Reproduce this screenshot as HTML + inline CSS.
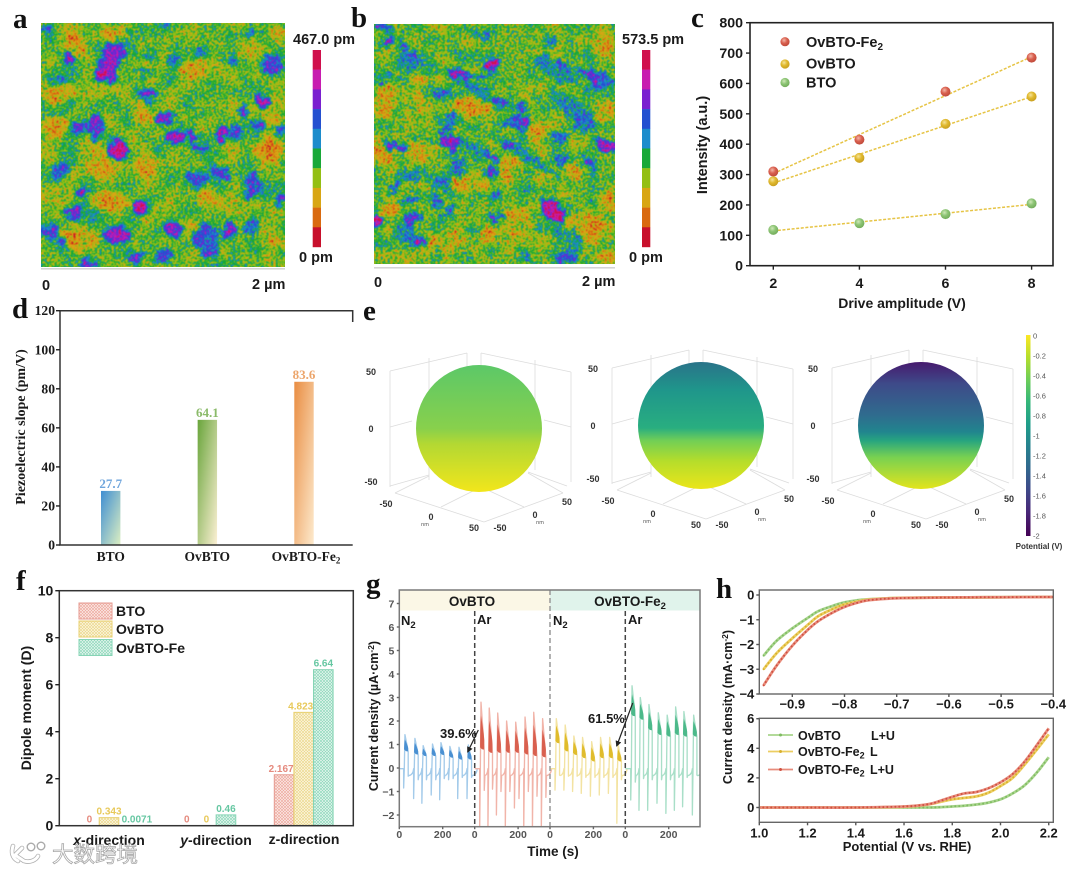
<!DOCTYPE html>
<html lang="en">
<head>
<meta charset="utf-8">
<title>Piezoelectric characterisation figure</title>
<style>
html,body{margin:0;padding:0;background:#fff;}
#figure{display:block;width:1080px;height:872px;filter:blur(0.35px);}
text{font-family:"Liberation Sans","Noto Sans CJK SC",sans-serif;}
.s{font-weight:bold;fill:#1a1a1a;}
.serif{font-family:"Liberation Serif",serif;font-weight:bold;fill:#1a1a1a;}
.letter{font-family:"Liberation Serif",serif;font-weight:bold;font-size:29px;fill:#111;}
</style>
</head>
<body>
<svg id="figure" xmlns="http://www.w3.org/2000/svg" width="1080" height="872" viewBox="0 0 1080 872">
<defs>
  <clipPath id="clip-map-a"><rect x="41" y="23" width="244" height="244"/></clipPath>
  <clipPath id="clip-map-b"><rect x="374" y="24" width="241" height="240"/></clipPath>
  <filter id="afm-a" filterUnits="userSpaceOnUse" x="21" y="3" width="284" height="284" color-interpolation-filters="sRGB">
    <feTurbulence type="fractalNoise" baseFrequency="0.05" numOctaves="2" seed="9" result="coarse"/>
    <feTurbulence type="fractalNoise" baseFrequency="0.12" numOctaves="2" seed="31" result="warp"/>
    <feDisplacementMap in="SourceGraphic" in2="warp" scale="16" xChannelSelector="R" yChannelSelector="G" result="warped"/>
    <feGaussianBlur in="warped" stdDeviation="1.3" result="base"/>
    <feTurbulence type="fractalNoise" baseFrequency="0.42" numOctaves="2" seed="4" result="fine"/>
    <feColorMatrix in="fine" type="matrix" values="1 0 0 0 0 1 0 0 0 0 1 0 0 0 0 0 0 0 0 1" result="fineGray"/>
    <feColorMatrix in="coarse" type="matrix" values="1 0 0 0 0 1 0 0 0 0 1 0 0 0 0 0 0 0 0 1" result="coarseGray"/>
    <feComposite in="base" in2="fineGray" operator="arithmetic" k1="0" k2="1" k3="0.6" k4="-0.3" result="m1"/>
    <feComposite in="m1" in2="coarseGray" operator="arithmetic" k1="0" k2="1" k3="0.3" k4="-0.15" result="m2"/>
    <feComponentTransfer in="m2" result="mapped">
      <feFuncR type="discrete" tableValues=".78 .85 .85 .58 .09 .11 .14 .48 .78 .82"/>
      <feFuncG type="discrete" tableValues=".06 .42 .65 .75 .66 .55 .31 .13 .11 .06"/>
      <feFuncB type="discrete" tableValues=".17 .06 .08 .08 .22 .80 .82 .82 .69 .30"/>
    </feComponentTransfer>
    <feGaussianBlur in="mapped" stdDeviation="0.45"/>
  </filter>
  <filter id="afm-b" filterUnits="userSpaceOnUse" x="354" y="4" width="281" height="280" color-interpolation-filters="sRGB">
    <feTurbulence type="fractalNoise" baseFrequency="0.06" numOctaves="2" seed="23" result="coarse"/>
    <feTurbulence type="fractalNoise" baseFrequency="0.14" numOctaves="2" seed="41" result="warp"/>
    <feDisplacementMap in="SourceGraphic" in2="warp" scale="18" xChannelSelector="R" yChannelSelector="G" result="warped"/>
    <feGaussianBlur in="warped" stdDeviation="1.1" result="base"/>
    <feTurbulence type="fractalNoise" baseFrequency="0.42" numOctaves="2" seed="17" result="fine"/>
    <feColorMatrix in="fine" type="matrix" values="1 0 0 0 0 1 0 0 0 0 1 0 0 0 0 0 0 0 0 1" result="fineGray"/>
    <feColorMatrix in="coarse" type="matrix" values="1 0 0 0 0 1 0 0 0 0 1 0 0 0 0 0 0 0 0 1" result="coarseGray"/>
    <feComposite in="base" in2="fineGray" operator="arithmetic" k1="0" k2="1" k3="0.62" k4="-0.31" result="m1"/>
    <feComposite in="m1" in2="coarseGray" operator="arithmetic" k1="0" k2="1" k3="0.3" k4="-0.15" result="m2"/>
    <feComponentTransfer in="m2" result="mapped">
      <feFuncR type="discrete" tableValues=".78 .85 .85 .58 .09 .11 .14 .48 .78 .82"/>
      <feFuncG type="discrete" tableValues=".06 .42 .65 .75 .66 .55 .31 .13 .11 .06"/>
      <feFuncB type="discrete" tableValues=".17 .06 .08 .08 .22 .80 .82 .82 .69 .30"/>
    </feComponentTransfer>
    <feGaussianBlur in="mapped" stdDeviation="0.45"/>
  </filter>
  <radialGradient id="ball-red" cx="0.4" cy="0.35" r="0.65"><stop offset="0" stop-color="#f3b7a8"/><stop offset="0.5" stop-color="#d9604f"/><stop offset="1" stop-color="#c04a3a"/></radialGradient>
  <radialGradient id="ball-yellow" cx="0.4" cy="0.35" r="0.65"><stop offset="0" stop-color="#f6e49a"/><stop offset="0.5" stop-color="#e0b92e"/><stop offset="1" stop-color="#c9a020"/></radialGradient>
  <radialGradient id="ball-green" cx="0.4" cy="0.35" r="0.65"><stop offset="0" stop-color="#cfe8b8"/><stop offset="0.5" stop-color="#8cc474"/><stop offset="1" stop-color="#74ad5c"/></radialGradient>
  <linearGradient id="bar-blue" x1="0" y1="0" x2="1" y2="1"><stop offset="0" stop-color="#3f8ed2"/><stop offset="1" stop-color="#dcefc2"/></linearGradient>
  <linearGradient id="bar-green" x1="0" y1="0" x2="1" y2="1"><stop offset="0" stop-color="#69a53b"/><stop offset="1" stop-color="#fcf0d4"/></linearGradient>
  <linearGradient id="bar-orange" x1="0" y1="0" x2="1" y2="1"><stop offset="0" stop-color="#e98d42"/><stop offset="1" stop-color="#fdeacd"/></linearGradient>
  <pattern id="hatch-red" width="3" height="3" patternUnits="userSpaceOnUse"><rect width="3" height="3" fill="#fdf1ee"/><path d="M0 0L3 3M3 0L0 3" stroke="#eda99f" stroke-width=".7"/></pattern>
  <pattern id="hatch-yellow" width="3" height="3" patternUnits="userSpaceOnUse"><rect width="3" height="3" fill="#fdf9e9"/><path d="M0 0L3 3M3 0L0 3" stroke="#ecd88c" stroke-width=".7"/></pattern>
  <pattern id="hatch-green" width="3" height="3" patternUnits="userSpaceOnUse"><rect width="3" height="3" fill="#eef9f4"/><path d="M0 0L3 3M3 0L0 3" stroke="#8fd8bb" stroke-width=".7"/></pattern>
  <linearGradient id="sphere-1" x1="0" y1="0" x2="0" y2="1"><stop offset="0" stop-color="#5cc868"/><stop offset=".5" stop-color="#88d04c"/><stop offset=".62" stop-color="#b3d833"/><stop offset="1" stop-color="#f2e61b"/></linearGradient>
  <linearGradient id="sphere-2" x1="0" y1="0" x2="0" y2="1"><stop offset="0" stop-color="#2a7389"/><stop offset=".22" stop-color="#1f968b"/><stop offset=".52" stop-color="#29ae80"/><stop offset=".62" stop-color="#72cf55"/><stop offset=".78" stop-color="#b5dd2b"/><stop offset="1" stop-color="#ebe51a"/></linearGradient>
  <linearGradient id="sphere-3" x1="0" y1="0" x2="0" y2="1"><stop offset="0" stop-color="#471a6e"/><stop offset=".17" stop-color="#3e4a89"/><stop offset=".42" stop-color="#2f6c8e"/><stop offset=".55" stop-color="#21858e"/><stop offset=".62" stop-color="#27a57f"/><stop offset=".75" stop-color="#78d151"/><stop offset="1" stop-color="#e3e41c"/></linearGradient>
  <linearGradient id="viridis-rev" x1="0" y1="0" x2="0" y2="1"><stop offset="0" stop-color="#fde725"/><stop offset=".11" stop-color="#b5de2b"/><stop offset=".22" stop-color="#6ece58"/><stop offset=".33" stop-color="#35b779"/><stop offset=".44" stop-color="#1f9e89"/><stop offset=".55" stop-color="#26828e"/><stop offset=".66" stop-color="#31688e"/><stop offset=".77" stop-color="#3e4989"/><stop offset=".88" stop-color="#482878"/><stop offset="1" stop-color="#440154"/></linearGradient>
  <clipPath id="clip-g"><rect x="399.3" y="590" width="300.7" height="236.7"/></clipPath>
  <marker id="arrow-head" viewBox="0 0 6 6" refX="5" refY="3" markerWidth="5" markerHeight="5" orient="auto-start-reverse"><path d="M0 0L6 3L0 6z" fill="#222"/></marker>
</defs>

<!-- panel letters -->
<text class="letter" x="13" y="28">a</text>
<text class="letter" x="351" y="27">b</text>
<text class="letter" x="691" y="27">c</text>
<text class="letter" x="12" y="318">d</text>
<text class="letter" x="363" y="320">e</text>
<text class="letter" x="16" y="590">f</text>
<text class="letter" x="366" y="593">g</text>
<text class="letter" x="716" y="598">h</text>

<!-- panels a / b -->
<g id="map-a" filter="url(#afm-a)" clip-path="url(#clip-map-a)"></g>
<g id="map-b" filter="url(#afm-b)" clip-path="url(#clip-map-b)"></g>
<rect x="41" y="268" width="244" height="1.6" fill="#d4d4d4"/>
<rect x="374" y="267" width="241" height="1.6" fill="#d4d4d4"/>
<g id="colorbar-a"></g>
<g id="colorbar-b"></g>
<text class="s" x="293" y="44" font-size="14.5">467.0 pm</text>
<text class="s" x="299" y="262" font-size="14.5">0 pm</text>
<text class="s" x="42" y="290" font-size="14.5">0</text>
<text class="s" x="252" y="289" font-size="14.5">2 µm</text>
<text class="s" x="622" y="44" font-size="14.5">573.5 pm</text>
<text class="s" x="629" y="262" font-size="14.5">0 pm</text>
<text class="s" x="374" y="287" font-size="14.5">0</text>
<text class="s" x="582" y="286" font-size="14.5">2 µm</text>

<!-- panel c -->
<g id="chart-c"></g>
<text class="s" transform="translate(707,145) rotate(-90)" text-anchor="middle" font-size="14.5">Intensity (a.u.)</text>
<text class="s" x="902" y="308" text-anchor="middle" font-size="14">Drive amplitude (V)</text>
<text class="s" x="806" y="47" font-size="14.5" style="font-weight:bold" fill="#222">OvBTO-Fe<tspan dy="3" font-size="10">2</tspan></text>
<text class="s" x="806" y="68.5" font-size="14.5">OvBTO</text>
<text class="s" x="806" y="87.5" font-size="14.5">BTO</text>

<!-- panel d -->
<g id="chart-d"></g>
<text class="serif" transform="translate(25,427) rotate(-90)" text-anchor="middle" font-size="14">Piezoelectric slope (pm/V)</text>
<text class="serif" x="110.7" y="561" text-anchor="middle" font-size="13.5">BTO</text>
<text class="serif" x="207.3" y="561" text-anchor="middle" font-size="13.5">OvBTO</text>
<text class="serif" x="306" y="561" text-anchor="middle" font-size="13.5">OvBTO-Fe<tspan dy="2.5" font-size="9">2</tspan></text>

<!-- panel e -->
<g id="chart-e"></g>
<rect x="1026" y="335" width="4.5" height="201" fill="url(#viridis-rev)"/>
<text x="1039" y="549" text-anchor="middle" font-size="8" font-weight="bold" fill="#333">Potential (V)</text>

<!-- panel f -->
<g id="chart-f"></g>
<text class="s" transform="translate(31,708) rotate(-90)" text-anchor="middle" font-size="14">Dipole moment (D)</text>
<rect x="79" y="603" width="33" height="16" fill="url(#hatch-red)" stroke="#e59a90" stroke-width="1"/>
<rect x="79" y="621" width="33" height="16" fill="url(#hatch-yellow)" stroke="#e8d070" stroke-width="1"/>
<rect x="79" y="639.5" width="33" height="16" fill="url(#hatch-green)" stroke="#86d4b5" stroke-width="1"/>
<text class="s" x="116" y="616" font-size="14">BTO</text>
<text class="s" x="116" y="634" font-size="14">OvBTO</text>
<text class="s" x="116" y="653" font-size="14">OvBTO-Fe</text>
<text class="s" x="109" y="845" text-anchor="middle" font-size="14"><tspan font-style="italic">x</tspan>-direction</text>
<text class="s" x="216" y="845" text-anchor="middle" font-size="14"><tspan font-style="italic">y</tspan>-direction</text>
<text class="s" x="304" y="844" text-anchor="middle" font-size="14">z-direction</text>

<!-- panel g -->
<rect x="399.3" y="590" width="150.7" height="20.5" fill="#fbf7e6"/>
<rect x="550" y="590" width="150" height="20.5" fill="#e0f3eb"/>
<g id="chart-g"></g>
<text class="s" x="472" y="606" text-anchor="middle" font-size="13.5">OvBTO</text>
<text class="s" x="630" y="606" text-anchor="middle" font-size="13.5">OvBTO-Fe<tspan dy="3" font-size="9.5">2</tspan></text>
<text class="s" x="401" y="625" font-size="13">N<tspan dy="3" font-size="9.5">2</tspan></text>
<text class="s" x="477" y="624" font-size="13">Ar</text>
<text class="s" x="553" y="625" font-size="13">N<tspan dy="3" font-size="9.5">2</tspan></text>
<text class="s" x="628" y="624" font-size="13">Ar</text>
<line x1="478.3" y1="730" x2="467.7" y2="752" stroke="#222" stroke-width="1.2" marker-end="url(#arrow-head)"/>
<line x1="632.7" y1="703" x2="616.7" y2="746" stroke="#222" stroke-width="1.2" marker-end="url(#arrow-head)"/>
<text class="s" x="440" y="738" font-size="13" fill="#333">39.6%</text>
<text class="s" x="588" y="723" font-size="13" fill="#333">61.5%</text>
<text class="s" transform="translate(378,716) rotate(-90)" text-anchor="middle" font-size="12.5">Current density (µA·cm<tspan dy="-4" font-size="8.5">-2</tspan><tspan dy="4">)</tspan></text>
<text class="s" x="553" y="856" text-anchor="middle" font-size="13.5">Time (s)</text>

<!-- panel h -->
<g id="chart-h"></g>
<text class="s" transform="translate(732,707) rotate(-90)" text-anchor="middle" font-size="12.5">Current density (mA·cm<tspan dy="-4" font-size="8.5">-2</tspan><tspan dy="4">)</tspan></text>
<text class="s" x="907" y="851" text-anchor="middle" font-size="13">Potential (V vs. RHE)</text>
<text class="s" x="798" y="740" font-size="12.5">OvBTO</text>
<text class="s" x="871" y="740" font-size="12.5">L+U</text>
<text class="s" x="798" y="756" font-size="12.5">OvBTO-Fe<tspan dy="2.5" font-size="9">2</tspan></text>
<text class="s" x="870" y="756" font-size="12.5">L</text>
<text class="s" x="798" y="774" font-size="12.5">OvBTO-Fe<tspan dy="2.5" font-size="9">2</tspan></text>
<text class="s" x="870" y="774" font-size="12.5">L+U</text>

<!-- watermark -->
<g>
  <path d="M13 846 C11 852 12 858 18 861 M22 848 L15 855 L24 861 C30 863 36 860 38 856" fill="none" stroke="#b0b0b0" stroke-width="4.6" stroke-linecap="round"/>
  <path d="M13 846 C11 852 12 858 18 861 M22 848 L15 855 L24 861 C30 863 36 860 38 856" fill="none" stroke="#fff" stroke-width="3" stroke-linecap="round"/>
  <circle cx="31" cy="847" r="3.8" fill="#fff" stroke="#aaa" stroke-width="1.4"/>
  <circle cx="41" cy="846" r="3.8" fill="#fff" stroke="#aaa" stroke-width="1.4"/>
  <text x="52" y="862" font-size="21.5" fill="#fff" stroke="#a8a8a8" stroke-width="0.8" style="font-family:'Noto Sans CJK SC',sans-serif">大数跨境</text>
</g>
</svg>

<script>
// ---------- chart values ----------
// panel a: grain features, [x %, y %, rx %, ry %, height level]
const grainsA=[[30,12,4,4,.72],[27,19,4.5,5,.75],[25,21,1.6,1.4,.92],[12,14,1.5,3,.8],[3,3,1.6,1.4,.7],[44,29,3,2,.72],[90,31.5,3.4,2,.82],[95,16.5,3.8,4,.7],[51,39,3.8,2,.78],[55.5,47,3.4,2.5,.8],[62,47,2,2.5,.75],[74,46,2,3,.82],[65,51,2.5,1.2,.75],[79.5,45,2,2.5,.64],[22.6,42.5,2.2,5,.72],[15,42.5,3,2.5,.66],[32,52,3.7,4.1,.85],[89,42.5,2.7,2,.7],[98,43.5,1.8,1.4,.75],[8.2,60,3.3,2.8,.68],[17,68.5,2.2,1.6,.9],[72.6,61.6,3.3,3.3,.74],[63.7,64.4,4,3.3,.66],[86.3,64.4,3.3,2.5,.68],[86.3,70,2.7,2,.74],[98,74,1.6,2.2,.75],[13.7,78,3.3,2.5,.74],[40.7,75.6,2.5,2.7,.85],[3.4,85.6,3.3,1.9,.68],[8.2,90.4,1.6,2.2,.68],[31.5,87,4.5,3.8,.78],[53.8,84.2,3.3,2.5,.78],[67.8,87.7,4.5,5.2,.68],[77.4,85,2.2,3.3,.78],[69.9,93.8,3.4,1.8,.76],[86.3,83.6,2.5,2.5,.62],[38.4,95.9,2.2,2.2,.7],[50,95.2,2.7,2.7,.7],[19.9,98.6,3.8,1.4,.8],[82.9,36.3,1.8,1.2,.72],[54,15.8,2,2,.62],[65.8,11.6,1.9,1.6,.6],[50.4,1.4,2.2,1.1,.65],[78.8,15,1.6,1.6,.6],[86.3,2.7,1.4,2,.6],[44.5,13,1.1,1.6,.62],[41.8,19.9,4,.8,.62],[7.5,24,3.4,1.1,.58],[21,80,2,2,.58]];
const lowsA=[[7.5,29,7.5,4],[5.5,43,5.5,4.8],[3.4,70,4.4,3.8],[22.6,60,5.2,4.8],[63.7,18.5,5.5,4],[29.5,4,5.5,3.4],[95,35.6,4.8,5.2],[93.8,53,5.7,5.5],[23.3,51.4,3.8,3.4],[61,85,3.4,4.4],[15.7,89,7.5,4.4],[28,72.6,8.2,4],[77.4,74,4.4,4.8],[15,9,5.2,4.8],[43,56,4,7],[41.8,38,4,4],[68,72.6,4,4],[96.5,4,3.4,3.4],[96.5,90,3.4,2.7]];
// panel b: [x %, y %, rx %, ry %, rotation deg, height level]
const grainsB=[[4.4,1.2,3.9,1.1,0,.72],[6.5,7.2,2,1.1,-20,.88],[14.8,12,4.8,1,25,.68],[48.8,17,2.5,2,30,.9],[35.6,21,4.8,2,10,.82],[44.6,22,2.8,1.1,0,.7],[50.8,32,3,1.7,20,.72],[28.7,29.4,4.2,1,10,.7],[60,41,4.8,2.5,0,.7],[31.5,49,4.2,2.5,10,.8],[30,42.6,2,.7,45,.72],[9.3,51,4.8,1.1,25,.72],[48,54.4,4.2,1.4,30,.75],[35.6,59.3,2,4.2,15,.66],[8.6,67.6,1.7,3,20,.72],[26,74,1.7,2.8,0,.68],[31.4,77.4,1.7,3.5,30,.68],[16.2,81.5,4.2,2.5,-30,.68],[73.7,77.4,7,2.8,40,.88],[50,71.7,3,1.1,-40,.62],[50,80.8,2.8,1.1,0,.72],[1,81.5,1.9,1.7,0,.92],[96.5,51,4.2,2.1,15,.82],[77.8,46.8,2.8,2.1,30,.62],[87.5,40,4.8,3.5,-30,.62],[93.8,23,5.5,2.5,30,.68],[88,21,4.2,.8,30,.75],[69.5,16,2.8,2.1,0,.6],[78,17.6,2,2,0,.7],[61,34.3,2,1.1,0,.72],[70,59.3,8.3,1.1,35,.6],[88.9,58,4.2,.8,35,.68],[78.5,56.5,2,1.4,0,.6],[63.3,98,2,1.4,0,.62],[80,97.5,3.5,1.7,0,.62],[19,90.6,2.8,.8,0,.78],[15.5,73,2.8,.6,20,.72],[73,7.2,2,.8,0,.72],[43.9,4.4,3.5,.7,25,.7],[5,23,2.5,1,0,.66],[32,38,1.1,2,30,.7],[49.5,62,2,1.1,15,.65],[55.7,50.3,2,.7,25,.75],[44,29,10,1,35,.55],[58,52,10,1.2,30,.55],[81,33,9,3,30,.52],[40,52,6,1.7,40,.55],[16,63,6,1.4,0,.52],[29,65,8,2,-30,.55],[12,87,4,3,0,.52],[80,90,4,6,-60,.52],[76,19,9,3.5,30,.52],[16,16,10,3.5,10,.5]];
const lowsB=[[4.4,33,4.8,7],[3.7,54,4.2,4.9],[19.7,52,4.8,4.2],[41,34,7,4.9],[19,33,2.8,4.9],[18.3,23,3.5,2.5],[87,86,12.5,7],[96.5,37,3.5,4.2],[96.5,75,3.5,4.2],[59,83,7.6,5.6],[39.7,66,7,4.9],[55,60.7,2.8,4.9],[66,45,4.2,4.2],[6.5,77.4,4.2,4.2],[30,91,6.2,4.2],[93.8,8,5.5,4.2],[58.4,56,2.8,2.8],[84,62,3.5,4.2],[16,66,4.2,1.7],[46.7,88.4,3.5,3.5],[96.5,96.8,3.5,2.8]];
const heightColors=["#d0104c","#c81cb0","#7a20d0","#2450d0","#1c8ccc","#18a838","#93bf14","#d8a614","#d96a10","#c8102c"];

// panel c
const cAmplitude=[2,4,6,8];
const cFe2=[310,415,573,685];
const cOv=[278,355,467,557];
const cBto=[118,140,170,205];
const cYTicks=[0,100,200,300,400,500,600,700,800];

// panel d
const dValues=[27.7,64.1,83.6];
const dLabels=["27.7","64.1","83.6"];
const dYTicks=[0,20,40,60,80,100,120];

// panel e
const eSphereTicks=["50","0","-50"];
const eColorTicks=[0,-0.2,-0.4,-0.6,-0.8,-1,-1.2,-1.4,-1.6,-1.8,-2];

// panel f
const fBto=[0,0,2.167];
const fOv=[0.343,0,4.823];
const fFe=[0.0071,0.46,6.64];
const fBtoLabels=["0","0","2.167"];
const fOvLabels=["0.343","0","4.823"];
const fFeLabels=["0.0071","0.46","6.64"];
const fYTicks=[0,2,4,6,8,10];

// panel g: per-cycle values (peak time s, peak, plateau, large spike, small spike)
const gBlueT=[26,72,110,153,192,233,275,318];
const gBluePeak=[1.42,1.26,.95,1.02,1.08,.92,.88,.98];
const gBluePlat=[.7,.57,.5,.5,.55,.43,.35,.35];
const gBlueNeg=[-.85,-1.3,-1.5,-1.15,-1.35,-.5,-1.3,-1.3];
const gBlueShort=[-.35,-.5,-.5,-.5,-.45,-.45,-.4,-.4];
const gRedT=[29,67,106,147,189,232,272,313];
const gRedPeak=[2.8,2.55,2.34,2.0,1.95,2.17,2.37,2.1];
const gRedPlat=[.78,.64,.64,.64,.64,.57,.5,.45];
const gRedNeg=[-2.6,-2.6,-2.0,-2.6,-1.7,-2.6,-2.6,-2.6];
const gRedShort=[-.95,-.9,-1.0,-1.0,-1.3,-1.0,-1.2,-1.25];
const gYelT=[29,70,110,150,192,233,275,314];
const gYelPeak=[2.1,1.83,1.36,1.3,1.12,1.3,1.3,1.0];
const gYelPlat=[1.05,.7,.55,.41,.27,.41,.41,.27];
const gYelNeg=[-.94,-.94,-1.0,-1.08,-1.2,-1.15,-1.08,-2.35];
const gYelShort=[-.3,-.35,-.35,-.4,-.4,-.4,-.4,-.5];
const gGrnT=[31,69,109,152,193,232,270,315];
const gGrnPeak=[3.5,3.0,2.7,2.35,2.25,2.6,2.4,2.25];
const gGrnPlat=[2.2,2.05,1.6,1.4,1.33,1.4,1.33,1.33];
const gGrnNeg=[-1.36,-1.8,-1.8,-1.5,-1.93,-1.8,-1.65,-2.0];
const gGrnShort=[-.6,-.45,-.5,-.5,-.5,-.4,-.4,-.3];
const gYTicks=[-2,-1,0,1,2,3,4,5,6,7];
const gXTicks=[0,200];

// panel h
const hTopX=[-.955,-.93,-.9,-.87,-.85,-.82,-.8,-.77,-.75,-.7,-.6,-.5,-.4];
const hTopOv=[-2.45,-1.85,-1.35,-.92,-.65,-.42,-.3,-.2,-.17,-.12,-.1,-.09,-.08];
const hTopFeL=[-3.0,-2.35,-1.75,-1.2,-.85,-.54,-.38,-.24,-.18,-.12,-.1,-.09,-.08];
const hTopFeLU=[-3.65,-2.85,-2.05,-1.4,-1.05,-.68,-.48,-.28,-.2,-.13,-.1,-.09,-.08];
const hBotX=[1.0,1.2,1.4,1.6,1.7,1.75,1.8,1.85,1.9,1.95,2.0,2.05,2.1,2.15,2.2];
const hBotOv=[0,0,0,0,0,.02,.07,.12,.2,.33,.55,.95,1.5,2.35,3.4];
const hBotFeL=[0,0,0,.05,.2,.38,.55,.65,.75,1.0,1.45,2.0,2.9,3.9,4.95];
const hBotFeLU=[0,0,0,.07,.22,.45,.72,.95,1.05,1.3,1.7,2.25,3.1,4.2,5.35];
const hTopYTicks=[0,-1,-2,-3,-4];
const hTopXTicks=[-.9,-.8,-.7,-.6,-.5,-.4];
const hBotYTicks=[0,2,4,6];
const hBotXTicks=[1.0,1.2,1.4,1.6,1.8,2.0,2.2];

// ---------- helpers ----------
const NS="http://www.w3.org/2000/svg";
function el(tag,attrs,parent,text){
  const e=document.createElementNS(NS,tag);
  for(const k in attrs)e.setAttribute(k,attrs[k]);
  if(text!==undefined)e.textContent=text;
  parent.appendChild(e);
  return e;
}
function smooth(pts){
  let d="M"+pts[0][0]+" "+pts[0][1];
  for(let i=0;i<pts.length-1;i++){
    const p0=pts[Math.max(i-1,0)],p1=pts[i],p2=pts[i+1],p3=pts[Math.min(i+2,pts.length-1)];
    d+=" C"+(p1[0]+(p2[0]-p0[0])/6)+" "+(p1[1]+(p2[1]-p0[1])/6)+" "+(p2[0]-(p3[0]-p1[0])/6)+" "+(p2[1]-(p3[1]-p1[1])/6)+" "+p2[0]+" "+p2[1];
  }
  return d;
}
function fmtMinus(s){return String(s).replace("-","\u2212");}

// ---------- panels a / b ----------
function drawMap(id,x0,y0,w,h,grains,lows,rotated){
  const g=document.getElementById(id);
  const bg=el("rect",{x:x0-20,y:y0-20,width:w+40,height:h+40,fill:"rgb(99,99,99)"},g);
  
  
  lows.forEach(b=>{
    const e=el("ellipse",{cx:x0+b[0]*w/100,cy:y0+b[1]*h/100,rx:b[2]*w/100,ry:b[3]*h/100,fill:"rgb(68,68,68)"},g);
    
    
  });
  const ordered=grains.slice().sort((p,q)=>p[p.length-1]-q[q.length-1]);
  ordered.forEach(b=>{
    const cx=x0+b[0]*w/100,cy=y0+b[1]*h/100;
    const halo=el("ellipse",{cx:cx,cy:cy,rx:b[2]*w/100+3,ry:b[3]*h/100+3,fill:"rgb(122,122,122)",transform:rotated?"rotate("+b[4]+" "+cx+" "+cy+")":""},g);
    
    
  });
  ordered.forEach(b=>{
    const lvl=b[b.length-1],c=Math.round(lvl*255),cx=x0+b[0]*w/100,cy=y0+b[1]*h/100;
    const e=el("ellipse",{cx:cx,cy:cy,rx:b[2]*w/100,ry:b[3]*h/100,fill:"rgb("+c+","+c+","+c+")",transform:rotated?"rotate("+b[4]+" "+cx+" "+cy+")":""},g);
    
    
  });
}
drawMap("map-a",41,23,244,244,grainsA,lowsA,false);
drawMap("map-b",374,24,241,240,grainsB,lowsB,true);
function drawColorbar(id,x){
  const g=document.getElementById(id);
  heightColors.forEach((c,i)=>{
    const r=el("rect",{x:x,y:50+i*19.7,width:8.3,height:19.9,fill:c},g);
    
    
  });
}
drawColorbar("colorbar-a",312.7);
drawColorbar("colorbar-b",642);

// ---------- generic axis ticks ----------
function yTicks(g,ticks,yFn,xAxis,opts){
  ticks.forEach(v=>{
    const t=el("line",{x1:xAxis-(opts.len||4),x2:xAxis,y1:yFn(v),y2:yFn(v),stroke:opts.color||"#222","stroke-width":opts.sw||1.4},g);
    
    
    const l=el("text",{x:xAxis-(opts.gap||6),y:yFn(v)+(opts.dy||5),"text-anchor":"end","font-size":opts.size,"font-weight":"bold",fill:opts.fill||"#1a1a1a",style:opts.serif?"font-family:'Liberation Serif',serif":""},g,fmtMinus(v));
    
    
  });
}
function xTicks(g,ticks,xFn,yAxis,yLabel,opts){
  ticks.forEach(v=>{
    const t=el("line",{x1:xFn(v),x2:xFn(v),y1:yAxis,y2:yAxis+(opts.len||4),stroke:opts.color||"#222","stroke-width":opts.sw||1.4},g);
    
    
    const txt=opts.format?opts.format(v):fmtMinus(v);
    const l=el("text",{x:xFn(v),y:yLabel,"text-anchor":"middle","font-size":opts.size,"font-weight":"bold",fill:opts.fill||"#1a1a1a"},g,txt);
    
    
  });
}

// ---------- panel c ----------
(function(){
  const g=document.getElementById("chart-c");
  const xC=v=>773.3+(v-2)*43.05, yC=v=>265.7-v*0.30375;
  const frame=el("rect",{x:750,y:22.7,width:303,height:243,fill:"none",stroke:"#222","stroke-width":1.6},g);
  
  
  yTicks(g,cYTicks,yC,750,{size:14.2,gap:7,dy:5});
  xTicks(g,cAmplitude,xC,265.7,288,{size:14.2});
  const series=[[cFe2,"ball-red"],[cOv,"ball-yellow"],[cBto,"ball-green"]];
  series.forEach(s=>{
    const n=s[0].length,mx=cAmplitude.reduce((a,b)=>a+b,0)/n,my=s[0].reduce((a,b)=>a+b,0)/n;
    let sxy=0,sxx=0;
    cAmplitude.forEach((x,i)=>{sxy+=(x-mx)*(s[0][i]-my);sxx+=(x-mx)*(x-mx);});
    const m=sxy/sxx,at=x=>my+m*(x-mx);
    const fit=el("line",{x1:xC(2),y1:yC(at(2)),x2:xC(8),y2:yC(at(8)),stroke:"#e6c445","stroke-width":1.5,"stroke-dasharray":"3 1.6"},g);
    
    
    s[0].forEach((v,i)=>{
      const c=el("circle",{cx:xC(cAmplitude[i]),cy:yC(v),r:5,fill:"url(#"+s[1]+")"},g);
      
      
    });
  });
  [["ball-red",41.7],["ball-yellow",64],["ball-green",82.5]].forEach(m=>{
    const c=el("circle",{cx:785,cy:m[1],r:4.6,fill:"url(#"+m[0]+")"},g);
    
    
  });
})();

// ---------- panel d ----------
(function(){
  const g=document.getElementById("chart-d");
  const yD=v=>545-v*1.9525, xD=i=>110.7+i*96.65;
  const fills=["url(#bar-blue)","url(#bar-green)","url(#bar-orange)"];
  const labelColors=["#6fa5dc","#8bbb6a","#eca56b"];
  dValues.forEach((v,i)=>{
    const b=el("rect",{x:xD(i)-9.7,y:yD(v),width:19.4,height:545-yD(v),fill:fills[i]},g);
    
    
    const t=el("text",{x:xD(i),y:yD(v)-3,"text-anchor":"middle","font-size":13,"font-weight":"bold",fill:labelColors[i],style:"font-family:'Liberation Serif',serif"},g,dLabels[i]);
    
    
  });
  const axis=el("path",{d:"M60 310.7H352.7V322 M60 310.7V545H352.7",fill:"none",stroke:"#333","stroke-width":1.5},g);
  
  
  yTicks(g,dYTicks,yD,60,{size:13.6,gap:5,dy:4.5,serif:true});
})();

// ---------- panel e ----------
(function(){
  const g=document.getElementById("chart-e");
  const boxes=[[0,0,"sphere-1"],[222,-3,"sphere-2"],[442,-3,"sphere-3"]];
  const grid=[[390,371,467,353],[481,353,571,372],[390,371,390,487],[429,358,429,480],[467,353,467,470],[481,353,481,470],[535,360,535,470],[571,372,571,482],[390,427,412,421],[571,427,544,420],[395,493,484,522],[484,522,563,493],[441,507,481,487],[524,507,481,487],[528,472,567,486],[429,475,390,486],[395,493,429,476],[563,493,528,473]];
  boxes.forEach(b=>{
    const dx=b[0],dy=b[1];
    grid.forEach(l=>{
      const line=el("line",{x1:l[0]+dx,y1:l[1]+dy,x2:l[2]+dx,y2:l[3]+dy,stroke:"#dcdcdc","stroke-width":.8},g);
      
      
    });
    const s=el("ellipse",{cx:479+dx,cy:428.5+dy,rx:63,ry:63.5,fill:"url(#"+b[2]+")"},g);
    
    
    const yPos=[375,432,485];
    eSphereTicks.forEach((t,i)=>{
      const l=el("text",{x:371+dx,y:yPos[i]+dy,"text-anchor":"middle","font-size":9,"font-weight":"bold",fill:"#333"},g,t);
      
      
    });
    [[386,507,"-50"],[431,520,"0"],[474,531,"50"],[500,531,"-50"],[535,518,"0"],[567,505,"50"]].forEach(p=>{
      const l=el("text",{x:p[0]+dx,y:p[1]+dy,"text-anchor":"middle","font-size":9,"font-weight":"bold",fill:"#333"},g,p[2]);
      
      
    });
    [[425,526],[540,524]].forEach(p=>{
      const l=el("text",{x:p[0]+dx,y:p[1]+dy,"text-anchor":"middle","font-size":5.5,fill:"#555"},g,"nm");
      
      
    });
  });
  eColorTicks.forEach(v=>{
    const l=el("text",{x:1033,y:336-v*100+2.5,"font-size":7.5,fill:"#555"},g,v);
    
    
  });
})();

// ---------- panel f ----------
(function(){
  const g=document.getElementById("chart-f");
  const yF=v=>825.7-v*23.5, xF=i=>109+i*97.35, barW=19.6;
  const groups=[[fBto,fBtoLabels,-1,"url(#hatch-red)","#e59a90","#e58a7e"],[fOv,fOvLabels,0,"url(#hatch-yellow)","#e8d070","#e8c95a"],[fFe,fFeLabels,1,"url(#hatch-green)","#86d4b5","#66c7a2"]];
  groups.forEach(s=>{
    s[0].forEach((v,i)=>{
      const cx=xF(i)+s[2]*barW;
      const b=el("rect",{x:cx-barW/2,y:yF(v),width:barW,height:825.7-yF(v),fill:s[3],stroke:s[4],"stroke-width":v>0.02?1:0},g);
      
      
    });
  });
  groups.forEach(s=>{
    s[0].forEach((v,i)=>{
      const cx=xF(i)+s[2]*barW;
      const long=s[1][i].length>5;
      const shift=(i===2&&s[2]<1)?-3:0;
      const t=el("text",{x:long?cx-7:cx+shift,y:yF(v)-3,"text-anchor":long?"start":"middle","font-size":10,"font-weight":"bold",fill:s[5]},g,s[1][i]);
      
      
    });
  });
  const frame=el("rect",{x:59.3,y:590.7,width:294,height:235,fill:"none",stroke:"#333","stroke-width":1.5},g);
  
  
  yTicks(g,fYTicks,yF,59.3,{size:14,gap:6,dy:5});
})();

// ---------- panel g ----------
(function(){
  const g=document.getElementById("chart-g");
  const segStart=[399.3,474.7,550,625.3];
  const yG=v=>768-v*23.5;
  const xG=(seg,t)=>segStart[seg]+t*0.217;
  const plot=el("g",{"clip-path":"url(#clip-g)"},g);
  
  
  const series=[
    [0,gBlueT,gBluePeak,gBluePlat,gBlueNeg,gBlueShort,"#4a90d2","#a4cbea"],
    [1,gRedT,gRedPeak,gRedPlat,gRedNeg,gRedShort,"#d9604f","#f1b4a9"],
    [2,gYelT,gYelPeak,gYelPlat,gYelNeg,gYelShort,"#e0bc2c","#f3e3a2"],
    [3,gGrnT,gGrnPeak,gGrnPlat,gGrnNeg,gGrnShort,"#4cb98a","#a9dfc8"]
  ];
  series.forEach(s=>{
    const seg=s[0],T=s[1],P=s[2],L=s[3],N=s[4],S=s[5];
    const X=t=>xG(seg,t).toFixed(2);
    const Y=v=>yG(v).toFixed(2);
    let d="M"+X(0)+" "+Y(-.03);
    T.forEach((tp,i)=>{
      const te=tp+15;
      d+=" L"+X(tp-6)+" "+Y(-.03)+" L"+X(tp-6)+" "+Y(N[i])+" L"+X(tp-3)+" "+Y(-.05)+" L"+X(tp)+" "+Y(P[i])+" L"+X(te)+" "+Y(L[i])+" L"+X(te)+" "+Y(S[i])+" L"+X(te+3)+" "+Y(-.32);
      const next=i<T.length-1?T[i+1]-6:te+26;
      d+=" Q"+X(next-3)+" "+Y(-.3)+" "+X(next)+" "+Y(-.04);
    });
    const light=el("path",{d:d,fill:"none",stroke:s[7],"stroke-width":1.35,"stroke-linejoin":"round"},plot);
    
    
    T.forEach((tp,i)=>{
      const span=P[i]-L[i],top=L[i]+span*.72;
      const b="M"+X(tp-4)+" "+Y(L[i]+.1)+" C"+X(tp-3)+" "+Y(L[i]+span*.45)+" "+X(tp-2)+" "+Y(L[i]+span*.6)+" "+X(tp)+" "+Y(top)+" C"+X(tp+3)+" "+Y(top-span*.1)+" "+X(tp+13)+" "+Y(L[i]+span*.4)+" "+X(tp+15)+" "+Y(L[i]+span*.2)+" L"+X(tp+14)+" "+Y(L[i])+" L"+X(tp+4)+" "+Y(L[i]+.02)+"Z";
      const blob=el("path",{d:b,fill:s[6]},plot);
      
      
    });
  });
  [[1,"#444",611],[2,"#999",590],[3,"#444",611]].forEach(v=>{
    const l=el("line",{x1:segStart[v[0]],x2:segStart[v[0]],y1:v[2],y2:826.7,stroke:v[1],"stroke-width":1.5,"stroke-dasharray":"5 3"},g);
    
    
  });
  const frame=el("rect",{x:399.3,y:590,width:300.7,height:236.7,fill:"none",stroke:"#7a7a7a","stroke-width":1.5},g);
  
  
  yTicks(g,gYTicks,yG,399.3,{size:10.5,gap:5,dy:4,len:2.5,color:"#666",fill:"#555"});
  segStart.forEach((s,i)=>{
    xTicks(g,gXTicks,v=>xG(i,v),826.7,838,{size:10.5,len:2.5,color:"#666",fill:"#555"});
  });
})();

// ---------- panel h ----------
(function(){
  const g=document.getElementById("chart-h");
  const xT=v=>1053.3+(v+.4)*522, yT=v=>595-v*24.75;
  const xB=v=>759.3+(v-1)*241.2, yB=v=>807.5-v*14.8;
  const cols=[["#a8d48c","#7fbb62"],["#ecce62","#d8b02c"],["#e88c7c","#cf5040"]];
  function curve(xs,ys,xf,yf,c){
    const pts=xs.map((x,i)=>[xf(x),yf(ys[i])]);
    const d=smooth(pts);
    const p=el("path",{d:d,fill:"none",stroke:c[0],"stroke-width":2.8},g);
    
    
    const m=el("path",{d:d,fill:"none",stroke:c[1],"stroke-width":2,"stroke-linecap":"round","stroke-dasharray":"0 4"},g);
    
    
  }
  [hTopOv,hTopFeL,hTopFeLU].forEach((ys,i)=>curve(hTopX,ys,xT,yT,cols[i]));
  [hBotOv,hBotFeL,hBotFeLU].forEach((ys,i)=>curve(hBotX,ys,xB,yB,cols[i]));
  const f1=el("rect",{x:759.3,y:590,width:294,height:104,fill:"none",stroke:"#666","stroke-width":1.4},g);
  
  
  const f2=el("rect",{x:759.3,y:718.3,width:294,height:104,fill:"none",stroke:"#666","stroke-width":1.4},g);
  
  
  yTicks(g,hTopYTicks,yT,759.3,{size:13,gap:5,dy:4.5,len:3,color:"#555"});
  xTicks(g,hTopXTicks,xT,694,708.5,{size:13,len:3,color:"#555",format:v=>"\u2212"+Math.abs(v).toFixed(1)});
  yTicks(g,hBotYTicks,yB,759.3,{size:13,gap:5,dy:4.5,len:3,color:"#555"});
  xTicks(g,hBotXTicks,xB,822.3,837.5,{size:13,len:3,color:"#555",format:v=>v.toFixed(1)});
  [735,751.5,769.5].forEach((y,i)=>{
    const l=el("line",{x1:768,x2:793,y1:y,y2:y,stroke:cols[i][0],"stroke-width":1.8},g);
    
    
    const c=el("circle",{cx:780.5,cy:y,r:1.5,fill:cols[i][1]},g);
    
    
  });
})();
</script>
</body>
</html>
